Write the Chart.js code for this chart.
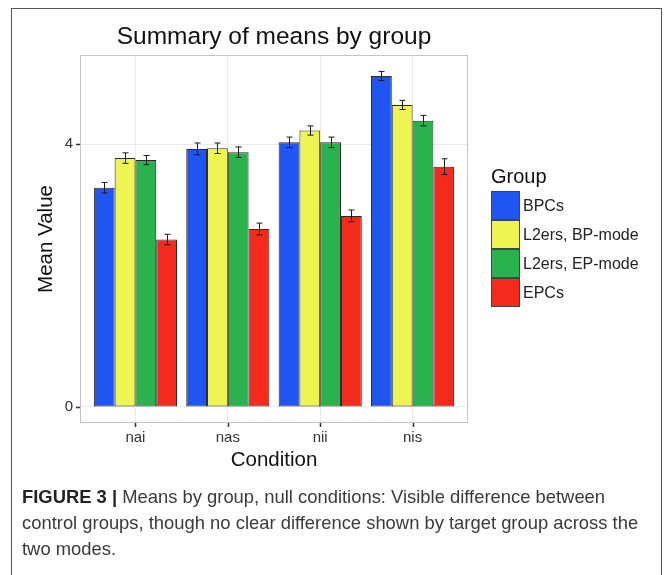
<!DOCTYPE html>
<html>
<head>
<meta charset="utf-8">
<script src="https://cdn.jsdelivr.net/npm/chart.js@4.4.1/dist/chart.umd.min.js"></script>
<style>
  html, body { margin: 0; padding: 0; background: #ffffff; }
  #wrap { position: relative; width: 667px; height: 575px; overflow: hidden; }
  #frame { position: absolute; left: 11px; top: 8px; width: 651px; height: 600px;
           border: 1.5px solid #555; box-sizing: border-box; }
  #plot { position: absolute; left: 0; top: 0; }
  #caption { position: absolute; left: 22px; top: 484px; width: 640px;
             font-family: "Liberation Sans", Arial, sans-serif; font-size: 18.4px;
             line-height: 26px; color: #3a3a3a; white-space: nowrap; }
  #caption b { color: #222; }
</style>
</head>
<body>
<div id="wrap">
  <div id="frame"></div>
  <canvas id="plot" width="667" height="575"></canvas>
  <div id="caption"><b>FIGURE 3 |</b> Means by group, null conditions: Visible difference between<br>control groups, though no clear difference shown by target group across the<br>two modes.</div>
</div>
<script>
// Conditions on the x axis
const conditions = ["nai", "nas", "nii", "nis"];
// Group names (legend order)
const groups = ["BPCs", "L2ers, BP-mode", "L2ers, EP-mode", "EPCs"];
const groupColors = ["#1f55f0", "#eef552", "#2bb24e", "#f42a1c"];

// Mean values per group, one per condition
const meanBPCs   = [3.34, 3.93, 4.03, 5.04];
const meanL2BP   = [3.79, 3.94, 4.21, 4.60];
const meanL2EP   = [3.76, 3.88, 4.03, 4.36];
const meanEPCs   = [2.55, 2.71, 2.91, 3.66];

// Standard errors per group, one per condition
const seBPCs = [0.08, 0.09, 0.08, 0.07];
const seL2BP = [0.08, 0.08, 0.07, 0.07];
const seL2EP = [0.07, 0.08, 0.08, 0.08];
const seEPCs = [0.08, 0.09, 0.09, 0.12];

// Y axis tick values
const yTicks = [0, 4];

const means = [meanBPCs, meanL2BP, meanL2EP, meanEPCs];
const errors = [seBPCs, seL2BP, seL2EP, seEPCs];

const FONT = "'Liberation Sans', Arial, sans-serif";

const datasets = groups.map((g, gi) => ({
  label: g,
  data: means[gi].map((v, ci) => ({ x: ci + 1, y: v })),
  errors: errors[gi],
  backgroundColor: groupColors[gi],
  borderColor: "#2a2a2a",
  borderWidth: 1,
  borderSkipped: false,
  categoryPercentage: 0.9,
  barPercentage: 1.0
}));

// Panel background, panel border, tick marks, error bars, titles and legend
const decor = {
  id: "decor",
  beforeDraw(chart) {
    const { ctx, chartArea: a } = chart;
    ctx.save();
    ctx.fillStyle = "#ffffff";
    ctx.fillRect(a.left, a.top, a.right - a.left, a.bottom - a.top);
    ctx.restore();
  },
  afterDatasetsDraw(chart) {
    const { ctx, scales } = chart;
    const ys = scales.y;
    ctx.save();
    ctx.strokeStyle = "#1a1a1a";
    ctx.lineWidth = 1;
    chart.data.datasets.forEach((ds, di) => {
      const meta = chart.getDatasetMeta(di);
      meta.data.forEach((el, i) => {
        const v = ds.data[i].y, e = ds.errors[i];
        const x = Math.round(el.x) + 0.5;
        const yT = ys.getPixelForValue(v + e);
        const yB = ys.getPixelForValue(v - e);
        const cap = 3;
        ctx.beginPath();
        ctx.moveTo(x, yT); ctx.lineTo(x, yB);
        ctx.moveTo(x - cap, yT); ctx.lineTo(x + cap, yT);
        ctx.moveTo(x - cap, yB); ctx.lineTo(x + cap, yB);
        ctx.stroke();
      });
    });
    ctx.restore();
  },
  afterDraw(chart) {
    const { ctx, chartArea: a, scales } = chart;
    ctx.save();
    // panel border
    ctx.strokeStyle = "#c4c4c4";
    ctx.lineWidth = 1;
    ctx.strokeRect(a.left + 0.5, a.top + 0.5, a.right - a.left - 1, a.bottom - a.top - 1);

    // axis tick marks
    ctx.strokeStyle = "#333";
    ctx.lineWidth = 1.5;
    ctx.beginPath();
    scales.x.ticks.forEach(t => {
      const x = Math.round(scales.x.getPixelForValue(t.value)) + 0.5;
      ctx.moveTo(x, a.bottom); ctx.lineTo(x, a.bottom + 4);
    });
    scales.y.ticks.forEach(t => {
      const y = Math.round(scales.y.getPixelForValue(t.value)) + 0.5;
      ctx.moveTo(a.left - 4, y); ctx.lineTo(a.left, y);
    });
    ctx.stroke();

    const cx = (a.left + a.right) / 2;
    ctx.fillStyle = "#111";
    ctx.textAlign = "center";
    ctx.textBaseline = "middle";
    ctx.font = "24.5px " + FONT;
    ctx.fillText("Summary of means by group", cx, 37);

    ctx.font = "20.5px " + FONT;
    ctx.fillText("Condition", cx, 460);

    ctx.save();
    ctx.translate(46, (a.top + a.bottom) / 2);
    ctx.rotate(-Math.PI / 2);
    ctx.fillText("Mean Value", 0, 0);
    ctx.restore();

    // legend
    const lx = 491, ly = 191, box = 29;
    ctx.textAlign = "left";
    ctx.font = "20px " + FONT;
    ctx.fillText("Group", lx, 177);
    ctx.font = "16px " + FONT;
    chart.data.datasets.forEach((ds, i) => {
      const y = ly + i * box;
      ctx.fillStyle = ds.backgroundColor;
      ctx.fillRect(lx, y, box, box);
      ctx.strokeStyle = "#444";
      ctx.lineWidth = 1;
      ctx.strokeRect(lx + 0.5, y + 0.5, box - 1, box - 1);
      ctx.fillStyle = "#222";
      ctx.fillText(ds.label, lx + box + 3, y + box / 2 + 1);
    });
    ctx.restore();
  }
};

new Chart(document.getElementById("plot"), {
  type: "bar",
  data: { datasets },
  options: {
    responsive: false,
    animation: false,
    layout: { padding: { left: 0, top: 55, right: 199, bottom: 0 } },
    plugins: { legend: { display: false }, tooltip: { enabled: false } },
    scales: {
      x: {
        type: "linear",
        offset: false,
        min: 0.4,
        max: 4.6,
        afterBuildTicks: s => { s.ticks = conditions.map((c, i) => ({ value: i + 1 })); },
        afterFit: s => { s.height = 152; },
        ticks: {
          callback: v => conditions[v - 1] || "",
          font: { family: FONT, size: 15 },
          color: "#333",
          padding: 2,
          maxRotation: 0,
          autoSkip: false
        },
        grid: { offset: false, color: "#ebebeb", lineWidth: 1, drawTicks: true, tickLength: 4, tickColor: "rgba(0,0,0,0)" },
        border: { display: false }
      },
      y: {
        min: -0.244,
        max: 5.36,
        afterBuildTicks: s => { s.ticks = yTicks.map(v => ({ value: v })); },
        afterFit: s => { s.width = 80; },
        ticks: {
          font: { family: FONT, size: 15 },
          color: "#333",
          padding: 3
        },
        grid: { color: "#ebebeb", lineWidth: 1, drawTicks: true, tickLength: 4, tickColor: "rgba(0,0,0,0)" },
        border: { display: false }
      }
    }
  },
  plugins: [decor]
});
</script>
</body>
</html>
